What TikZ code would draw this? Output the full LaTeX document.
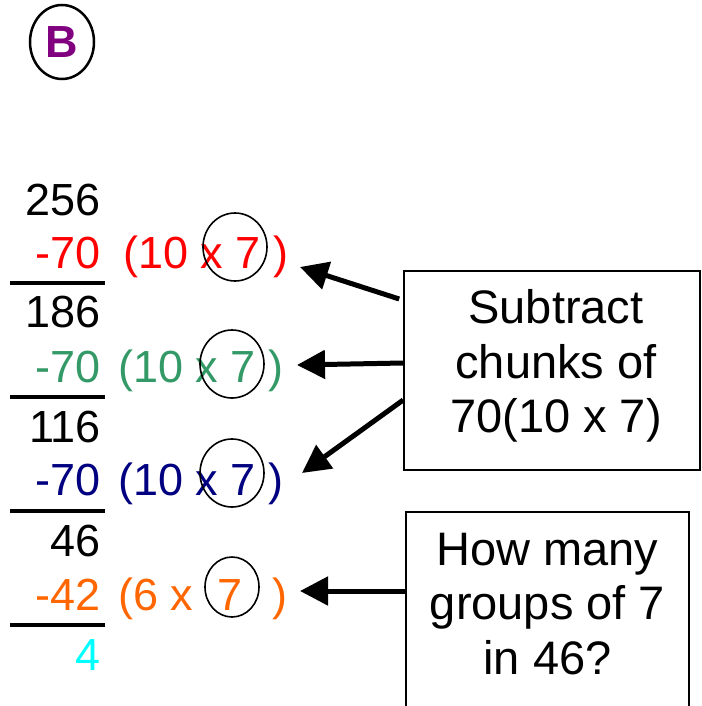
\documentclass[tikz,border=0pt]{standalone}
\usepackage{fontspec}
\setmainfont{Liberation Sans}
\usetikzlibrary{arrows.meta,shapes.geometric}
\definecolor{cred}{RGB}{255,0,0}
\definecolor{cgreen}{RGB}{51,153,102}
\definecolor{cblue}{RGB}{0,0,128}
\definecolor{corange}{RGB}{255,102,0}
\definecolor{ccyan}{RGB}{0,255,255}
\definecolor{cpurple}{RGB}{128,0,128}
\begin{document}
\begin{tikzpicture}[x=1pt,y=-1pt,
  num/.style={anchor=base east,inner sep=0pt,font=\fontsize{45}{54}\selectfont},
  expr/.style={anchor=base west,inner sep=0pt,font=\fontsize{45}{54}\selectfont},
  ring/.style={draw,ellipse,line width=1.6pt,inner sep=0pt,minimum width=64pt,minimum height=68pt},
  rule/.style={line width=3.3pt},
  box/.style={draw,line width=1.6pt,inner sep=0pt},
  boxtext/.style={align=center,inner sep=0pt,font=\fontsize{47}{54.5}\selectfont},
  arr/.style={line width=5pt,-{Triangle[length=28pt,width=28pt]}}]
\useasboundingbox (0,0) rectangle (701,706);
% B badge
\node[draw,ellipse,line width=2.5pt,inner sep=0pt,minimum width=64pt,minimum height=74pt,
  text=cpurple,font=\bfseries\fontsize{45}{54}\selectfont] (badge) at (62,42) {B};
% left column
\node[num] (n1) at (101,215) {256};
\node[num,text=cred] (s1) at (101,268) {-70};
\draw[rule] (10,283) -- (105,283);
\node[num] (n2) at (101,327) {186};
\node[num,text=cgreen] (s2) at (101,382) {-70};
\draw[rule] (10,397) -- (105,397);
\node[num] (n3) at (101,442) {116};
\node[num,text=cblue] (s3) at (101,495) {-70};
\draw[rule] (10,511) -- (105,511);
\node[num] (n4) at (101,556) {46};
\node[num,text=corange] (s4) at (101,610) {-42};
\draw[rule] (10,625) -- (105,625);
\node[num,text=ccyan] (n5) at (101,670) {4};
% expressions
\node[expr,text=cred] (e1) at (123,268) {(10 x 7 )};
\node[expr,text=cgreen] (e2) at (118,382) {(10 x 7 )};
\node[expr,text=cblue] (e3) at (118,495) {(10 x 7 )};
\node[expr,text=corange] (e4) at (118,610) {(6 x\hspace{24pt}7\hspace{30pt})};
% rings
\node[ring] (r1) at (235,247) {};
\node[ring] (r2) at (232,364) {};
\node[ring] (r3) at (232,473) {};
\node[ring,minimum width=54pt,minimum height=60pt] (r4) at (232,587) {};
% boxes
\node[box,minimum width=296pt,minimum height=199pt] (box1) at (552,370.5) {};
\node[boxtext] (t1) at (556,366) {Subtract\\chunks of\\70(10 x 7)};
\node[box,minimum width=283pt,minimum height=210pt] (box2) at (547.5,617) {};
\node[boxtext] (t2) at (547.5,604) {How many\\groups of 7\\in 46?};
% arrow tips
\coordinate (a1) at (300,267);
\coordinate (a2) at (297,365);
\coordinate (a3) at (302,473);
\coordinate (a4) at (300,591);
\draw[arr] ([yshift=71.5pt,xshift=-4pt]box1.west) -- (a1);
\draw[arr] ([yshift=7.5pt]box1.west) -- (a2);
\draw[arr] ([yshift=-29.5pt]box1.west) -- (a3);
\draw[arr] ([yshift=26pt]box2.west) -- (a4);
\end{tikzpicture}
\end{document}
